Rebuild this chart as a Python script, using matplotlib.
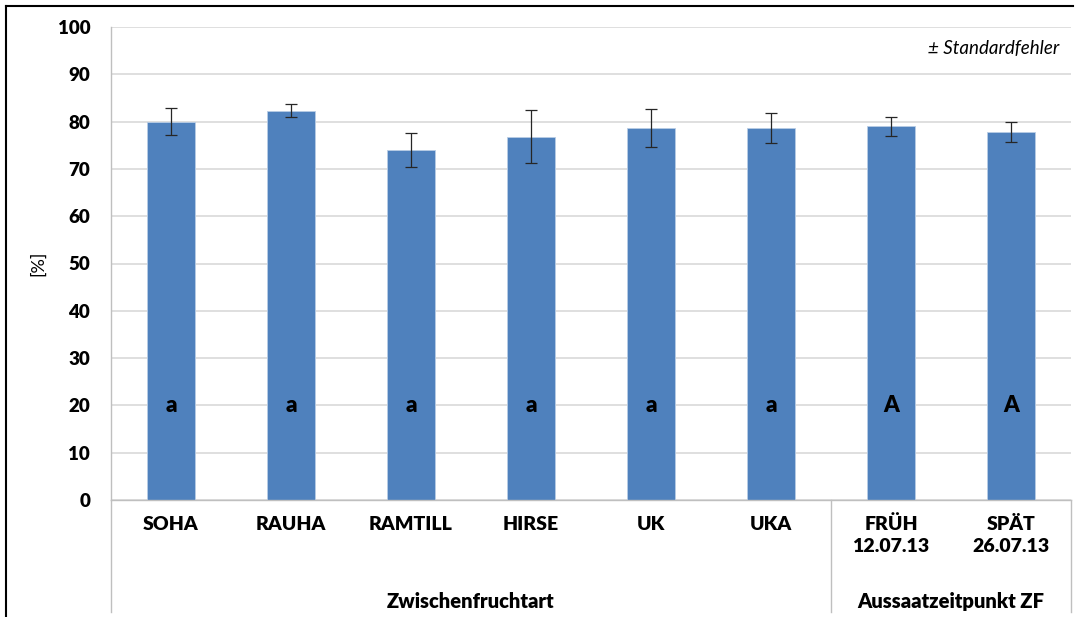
import numpy as np
import matplotlib
matplotlib.use("Agg")
import matplotlib.pyplot as plt
from matplotlib.lines import Line2D

plt.rcParams['font.family'] = ['Lato', 'DejaVu Sans']

# data
categories = ["SOHA", "RAUHA", "RAMTILL", "HIRSE", "UK", "UKA", "FRÜH\n12.07.13", "SPÄT\n26.07.13"]
values = [80.0, 82.3, 74.0, 76.8, 78.7, 78.6, 79.0, 77.8]
errors = [2.9, 1.4, 3.6, 5.6, 4.0, 3.2, 2.0, 2.2]
letters = ["a", "a", "a", "a", "a", "a", "A", "A"]
groups = ["Zwischenfruchtart", "Aussaatzeitpunkt ZF"]
group_spans = [(0, 5), (6, 7)]
yticks = list(range(0, 101, 10))

W, H = 1075, 617
fig = plt.figure(figsize=(W / 100, H / 100), dpi=100)
ax = fig.add_axes([111 / W, (H - 500) / H, (1071 - 111) / W, (500 - 27) / H])

x = np.arange(len(categories))
ax.bar(x, values, width=0.4, color="#4F81BD", edgecolor="#B9CDE5", linewidth=0.6, zorder=2)
ax.errorbar(x, values, yerr=errors, fmt="none", ecolor="#262626", elinewidth=0.9,
            capsize=4, capthick=0.9, zorder=3)

# significance letters
for xi, let in zip(x, letters):
    ax.text(xi, 20, let, ha="center", va="center", fontsize=16, fontweight="heavy", zorder=4)

ax.set_xlim(-0.5, len(categories) - 0.5)
ax.set_ylim(0, 100)
ax.set_yticks(yticks)
ax.set_yticklabels([str(t) for t in yticks], fontsize=13.5, fontweight="heavy")
ax.tick_params(axis="y", length=0, pad=15)
ax.set_xticks([])
ax.yaxis.grid(True, color="#D9D9D9", linewidth=1.2, zorder=0)
ax.set_axisbelow(True)
for s in ["top", "right"]:
    ax.spines[s].set_visible(False)
ax.spines["left"].set_color("#BFBFBF")
ax.spines["bottom"].set_color("#BFBFBF")
ax.spines["left"].set_linewidth(1.0)
ax.spines["bottom"].set_linewidth(1.0)

ax.set_ylabel("[%]", fontsize=13, labelpad=8)

# category labels
tr = ax.get_xaxis_transform()
for xi, lab in zip(x, categories):
    ax.text(xi, -0.033, lab, transform=tr, ha="center", va="top", fontsize=14,
            fontweight="heavy", linespacing=1.35)

# group labels and separators
for g, (a, b) in zip(groups, group_spans):
    ax.text((a + b) / 2, -0.215, g, transform=tr, ha="center", va="center",
            fontsize=14.5, fontweight="heavy")
for sx in [-0.5, 5.5, 7.5]:
    ax.plot([sx, sx], [0, -0.237], transform=tr, color="#BFBFBF", linewidth=1.0, clip_on=False)

ax.text(0.988, 0.955, "± Standardfehler", transform=ax.transAxes, ha="right", va="center",
        fontsize=13.5, fontstyle="italic")

# outer frame
fig.add_artist(Line2D([6 / W, 1073 / W], [(H - 6) / H, (H - 6) / H], color="black", linewidth=1.5))
fig.add_artist(Line2D([6 / W, 6 / W], [(H - 6) / H, 0], color="black", linewidth=1.5))

fig.savefig("out.png", dpi=100)
